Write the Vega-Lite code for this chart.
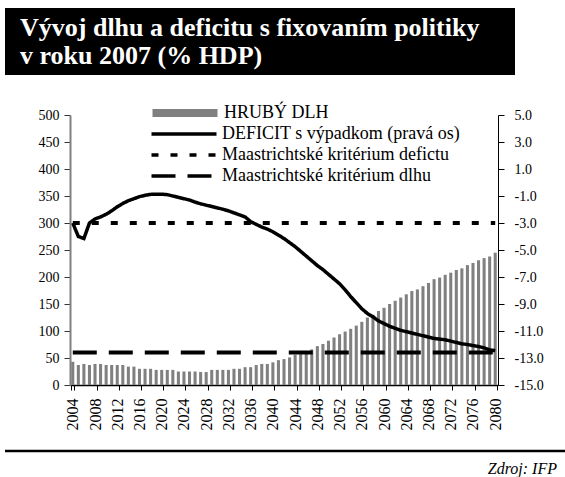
{
  "$schema": "https://vega.github.io/schema/vega-lite/v6.json",
  "padding": {"left": -3, "top": 8, "right": 0, "bottom": 0},
  "background": "white",
  "columns": 1,
  "spacing": 19,
  "config": {
    "font": "Liberation Serif",
    "view": {"stroke": null},
    "axis": {"labelFont": "Liberation Serif", "labelFontSize": 14, "labelColor": "black", "grid": false, "labelOverlap": false}
  },
  "datasets": {
    "main": [
      {"year": 2004, "debt": 43, "deficit": -3.0, "crit_debt": 60, "crit_def": -3},
      {"year": 2005, "debt": 37, "deficit": -4.0, "crit_debt": 60, "crit_def": -3},
      {"year": 2006, "debt": 39, "deficit": -4.15, "crit_debt": 60, "crit_def": -3},
      {"year": 2007, "debt": 37, "deficit": -3.0, "crit_debt": 60, "crit_def": -3},
      {"year": 2008, "debt": 39, "deficit": -2.7, "crit_debt": 60, "crit_def": -3},
      {"year": 2009, "debt": 39, "deficit": -2.55, "crit_debt": 60, "crit_def": -3},
      {"year": 2010, "debt": 37, "deficit": -2.35, "crit_debt": 60, "crit_def": -3},
      {"year": 2011, "debt": 37, "deficit": -2.1, "crit_debt": 60, "crit_def": -3},
      {"year": 2012, "debt": 37, "deficit": -1.8, "crit_debt": 60, "crit_def": -3},
      {"year": 2013, "debt": 37, "deficit": -1.55, "crit_debt": 60, "crit_def": -3},
      {"year": 2014, "debt": 34, "deficit": -1.35, "crit_debt": 60, "crit_def": -3},
      {"year": 2015, "debt": 34, "deficit": -1.2, "crit_debt": 60, "crit_def": -3},
      {"year": 2016, "debt": 30, "deficit": -1.05, "crit_debt": 60, "crit_def": -3},
      {"year": 2017, "debt": 30, "deficit": -0.95, "crit_debt": 60, "crit_def": -3},
      {"year": 2018, "debt": 30, "deficit": -0.88, "crit_debt": 60, "crit_def": -3},
      {"year": 2019, "debt": 28, "deficit": -0.87, "crit_debt": 60, "crit_def": -3},
      {"year": 2020, "debt": 28, "deficit": -0.87, "crit_debt": 60, "crit_def": -3},
      {"year": 2021, "debt": 28, "deficit": -0.9, "crit_debt": 60, "crit_def": -3},
      {"year": 2022, "debt": 28, "deficit": -1.0, "crit_debt": 60, "crit_def": -3},
      {"year": 2023, "debt": 25, "deficit": -1.1, "crit_debt": 60, "crit_def": -3},
      {"year": 2024, "debt": 25, "deficit": -1.2, "crit_debt": 60, "crit_def": -3},
      {"year": 2025, "debt": 25, "deficit": -1.3, "crit_debt": 60, "crit_def": -3},
      {"year": 2026, "debt": 25, "deficit": -1.45, "crit_debt": 60, "crit_def": -3},
      {"year": 2027, "debt": 24, "deficit": -1.58, "crit_debt": 60, "crit_def": -3},
      {"year": 2028, "debt": 24, "deficit": -1.68, "crit_debt": 60, "crit_def": -3},
      {"year": 2029, "debt": 28, "deficit": -1.78, "crit_debt": 60, "crit_def": -3},
      {"year": 2030, "debt": 28, "deficit": -1.88, "crit_debt": 60, "crit_def": -3},
      {"year": 2031, "debt": 28, "deficit": -1.98, "crit_debt": 60, "crit_def": -3},
      {"year": 2032, "debt": 28, "deficit": -2.1, "crit_debt": 60, "crit_def": -3},
      {"year": 2033, "debt": 30, "deficit": -2.25, "crit_debt": 60, "crit_def": -3},
      {"year": 2034, "debt": 30, "deficit": -2.4, "crit_debt": 60, "crit_def": -3},
      {"year": 2035, "debt": 33, "deficit": -2.55, "crit_debt": 60, "crit_def": -3},
      {"year": 2036, "debt": 33, "deficit": -2.9, "crit_debt": 60, "crit_def": -3},
      {"year": 2037, "debt": 37, "deficit": -3.1, "crit_debt": 60, "crit_def": -3},
      {"year": 2038, "debt": 39, "deficit": -3.3, "crit_debt": 60, "crit_def": -3},
      {"year": 2039, "debt": 39, "deficit": -3.45, "crit_debt": 60, "crit_def": -3},
      {"year": 2040, "debt": 42, "deficit": -3.65, "crit_debt": 60, "crit_def": -3},
      {"year": 2041, "debt": 46, "deficit": -3.9, "crit_debt": 60, "crit_def": -3},
      {"year": 2042, "debt": 48, "deficit": -4.15, "crit_debt": 60, "crit_def": -3},
      {"year": 2043, "debt": 51, "deficit": -4.45, "crit_debt": 60, "crit_def": -3},
      {"year": 2044, "debt": 56, "deficit": -4.75, "crit_debt": 60, "crit_def": -3},
      {"year": 2045, "debt": 57, "deficit": -5.1, "crit_debt": 60, "crit_def": -3},
      {"year": 2046, "debt": 60, "deficit": -5.45, "crit_debt": 60, "crit_def": -3},
      {"year": 2047, "debt": 66, "deficit": -5.8, "crit_debt": 60, "crit_def": -3},
      {"year": 2048, "debt": 72, "deficit": -6.15, "crit_debt": 60, "crit_def": -3},
      {"year": 2049, "debt": 76, "deficit": -6.45, "crit_debt": 60, "crit_def": -3},
      {"year": 2050, "debt": 82, "deficit": -6.8, "crit_debt": 60, "crit_def": -3},
      {"year": 2051, "debt": 88, "deficit": -7.15, "crit_debt": 60, "crit_def": -3},
      {"year": 2052, "debt": 94, "deficit": -7.5, "crit_debt": 60, "crit_def": -3},
      {"year": 2053, "debt": 99, "deficit": -7.95, "crit_debt": 60, "crit_def": -3},
      {"year": 2054, "debt": 104, "deficit": -8.45, "crit_debt": 60, "crit_def": -3},
      {"year": 2055, "debt": 110, "deficit": -8.9, "crit_debt": 60, "crit_def": -3},
      {"year": 2056, "debt": 117, "deficit": -9.35, "crit_debt": 60, "crit_def": -3},
      {"year": 2057, "debt": 125, "deficit": -9.7, "crit_debt": 60, "crit_def": -3},
      {"year": 2058, "debt": 130, "deficit": -9.95, "crit_debt": 60, "crit_def": -3},
      {"year": 2059, "debt": 137, "deficit": -10.25, "crit_debt": 60, "crit_def": -3},
      {"year": 2060, "debt": 143, "deficit": -10.45, "crit_debt": 60, "crit_def": -3},
      {"year": 2061, "debt": 150, "deficit": -10.65, "crit_debt": 60, "crit_def": -3},
      {"year": 2062, "debt": 156, "deficit": -10.8, "crit_debt": 60, "crit_def": -3},
      {"year": 2063, "debt": 162, "deficit": -10.95, "crit_debt": 60, "crit_def": -3},
      {"year": 2064, "debt": 168, "deficit": -11.05, "crit_debt": 60, "crit_def": -3},
      {"year": 2065, "debt": 174, "deficit": -11.15, "crit_debt": 60, "crit_def": -3},
      {"year": 2066, "debt": 177, "deficit": -11.25, "crit_debt": 60, "crit_def": -3},
      {"year": 2067, "debt": 183, "deficit": -11.35, "crit_debt": 60, "crit_def": -3},
      {"year": 2068, "debt": 189, "deficit": -11.45, "crit_debt": 60, "crit_def": -3},
      {"year": 2069, "debt": 196, "deficit": -11.55, "crit_debt": 60, "crit_def": -3},
      {"year": 2070, "debt": 199, "deficit": -11.6, "crit_debt": 60, "crit_def": -3},
      {"year": 2071, "debt": 204, "deficit": -11.65, "crit_debt": 60, "crit_def": -3},
      {"year": 2072, "debt": 208, "deficit": -11.75, "crit_debt": 60, "crit_def": -3},
      {"year": 2073, "debt": 213, "deficit": -11.85, "crit_debt": 60, "crit_def": -3},
      {"year": 2074, "debt": 216, "deficit": -11.95, "crit_debt": 60, "crit_def": -3},
      {"year": 2075, "debt": 222, "deficit": -12.0, "crit_debt": 60, "crit_def": -3},
      {"year": 2076, "debt": 226, "deficit": -12.08, "crit_debt": 60, "crit_def": -3},
      {"year": 2077, "debt": 231, "deficit": -12.15, "crit_debt": 60, "crit_def": -3},
      {"year": 2078, "debt": 235, "deficit": -12.25, "crit_debt": 60, "crit_def": -3},
      {"year": 2079, "debt": 238, "deficit": -12.4, "crit_debt": 60, "crit_def": -3},
      {"year": 2080, "debt": 245, "deficit": -12.45, "crit_debt": 60, "crit_def": -3}
    ],
    "header": [{"t": ""}],
    "footer": [{"t": ""}]
  },
  "concat": [
    {
      "width": 510,
      "height": 67,
      "view": {"fill": "black", "stroke": null},
      "title": {
        "text": ["Vývoj dlhu a deficitu s fixovaním politiky", "v roku 2007 (% HDP)"],
        "anchor": "start",
        "frame": "group",
        "orient": "top",
        "color": "white",
        "font": "Liberation Serif",
        "fontSize": 26,
        "fontWeight": "bold",
        "lineHeight": 28,
        "baseline": "alphabetic",
        "offset": 0,
        "dx": 15,
        "dy": 82
      },
      "data": {"name": "header"},
      "mark": {"type": "text"},
      "encoding": {"text": {"field": "t"}}
    },
    {
      "width": 493,
      "height": 270,
      "title": {"text": " ", "fontSize": 14, "offset": 0},
      "data": {"name": "main"},
      "encoding": {
        "x": {
          "field": "year",
          "type": "ordinal",
          "scale": {"range": [65, 493], "paddingInner": 0.45, "paddingOuter": 0.225},
          "axis": {
            "title": null,
            "values": [2004, 2008, 2012, 2016, 2020, 2024, 2028, 2032, 2036, 2040, 2044, 2048, 2052, 2056, 2060, 2064, 2068, 2072, 2076, 2080],
            "labelAngle": -90,
            "labelFontSize": 16,
            "labelPadding": 8,
            "tickBand": "extent",
            "tickSize": 5,
            "tickColor": "black",
            "domainColor": "black",
            "domainWidth": 1.5
          }
        }
      },
      "layer": [
        {
          "layer": [
            {
              "mark": {"type": "bar", "color": "#808080"},
              "encoding": {
                "y": {
                  "field": "debt",
                  "type": "quantitative",
                  "scale": {"domain": [0, 500]},
                  "axis": {
                    "title": null,
                    "orient": "left",
                    "offset": -65,
                    "minExtent": 0,
                    "values": [0, 50, 100, 150, 200, 250, 300, 350, 400, 450, 500],
                    "labelOverlap": false,
                    "tickSize": 6,
                    "tickColor": "#333333",
                    "domainColor": "#808080",
                    "domainWidth": 2,
                    "labelPadding": 5
                  }
                },
                "color": {
                  "datum": "HRUBÝ DLH",
                  "scale": {"domain": ["HRUBÝ DLH"], "range": ["#808080"]},
                  "legend": {
                    "title": null,
                    "orient": "none",
                    "legendX": 171,
                    "legendY": 96,
                    "padding": 0,
                    "symbolType": "M-6.5,-0.8H6.5V0.8H-6.5Z",
                    "symbolSize": 100,
                    "symbolStrokeWidth": 0,
                    "symbolOpacity": 1,
                    "labelOffset": 30,
                    "labelFont": "Liberation Serif",
                    "labelFontSize": 18,
                    "labelColor": "black",
                    "labelLimit": 400
                  }
                }
              }
            },
            {
              "mark": {"type": "line", "color": "black", "strokeWidth": 4},
              "encoding": {
                "y": {
                  "field": "crit_debt",
                  "type": "quantitative",
                  "scale": {"domain": [0, 500]},
                  "axis": {
                    "title": null,
                    "orient": "left",
                    "offset": -65,
                    "minExtent": 0,
                    "values": [0, 50, 100, 150, 200, 250, 300, 350, 400, 450, 500],
                    "labelOverlap": false,
                    "tickSize": 6,
                    "tickColor": "#333333",
                    "domainColor": "#808080",
                    "domainWidth": 2,
                    "labelPadding": 5
                  }
                },
                "strokeDash": {
                  "datum": "Maastrichtské kritérium dlhu",
                  "scale": {
                    "domain": ["DEFICIT s výpadkom (pravá os)", "Maastrichtské kritérium defictu", "Maastrichtské kritérium dlhu"],
                    "range": [[1, 0], [7, 12], [24, 12]]
                  },
                  "legend": {
                    "title": null,
                    "orient": "none",
                    "legendX": 170,
                    "legendY": 117,
                    "padding": 0,
                    "symbolType": "M-6.5,0H6.5",
                    "symbolSize": 100,
                    "symbolStrokeWidth": 3.5,
                    "symbolStrokeColor": "black",
                    "symbolOpacity": 1,
                    "labelOffset": 29,
                    "labelFont": "Liberation Serif",
                    "labelFontSize": 18,
                    "labelColor": "black",
                    "rowPadding": 3,
                    "labelLimit": 400
                  }
                }
              }
            }
          ]
        },
        {
          "layer": [
            {
              "mark": {"type": "line", "color": "black", "strokeWidth": 3.5},
              "encoding": {
                "y": {
                  "field": "deficit",
                  "type": "quantitative",
                  "scale": {"domain": [-15, 5]},
                  "axis": {
                    "title": null,
                    "orient": "right",
                    "values": [-15, -13, -11, -9, -7, -5, -3, -1, 1, 3, 5],
                    "labelOverlap": false,
                    "labelExpr": "(datum.value < 0 ? '-' : '') + format(abs(datum.value), '.1f')",
                    "tickSize": 6,
                    "tickColor": "black",
                    "domainColor": "black",
                    "labelPadding": 10
                  }
                },
                "strokeDash": {"datum": "DEFICIT s výpadkom (pravá os)"}
              }
            },
            {
              "mark": {"type": "line", "color": "black", "strokeWidth": 4},
              "encoding": {
                "y": {
                  "field": "crit_def",
                  "type": "quantitative",
                  "scale": {"domain": [-15, 5]},
                  "axis": {
                    "title": null,
                    "orient": "right",
                    "values": [-15, -13, -11, -9, -7, -5, -3, -1, 1, 3, 5],
                    "labelOverlap": false,
                    "labelExpr": "(datum.value < 0 ? '-' : '') + format(abs(datum.value), '.1f')",
                    "tickSize": 6,
                    "tickColor": "black",
                    "domainColor": "black",
                    "labelPadding": 10
                  }
                },
                "strokeDash": {"datum": "Maastrichtské kritérium defictu"}
              }
            }
          ]
        }
      ],
      "resolve": {"scale": {"y": "independent"}}
    },
    {
      "width": 560,
      "height": 1,
      "data": {"name": "footer"},
      "mark": {"type": "rule", "color": "black", "strokeWidth": 2.5},
      "encoding": {
        "y": {"datum": 1, "type": "quantitative", "scale": {"domain": [0, 1]}, "axis": null}
      },
      "title": {
        "text": "Zdroj: IFP",
        "orient": "bottom",
        "anchor": "end",
        "frame": "group",
        "font": "Liberation Serif",
        "fontSize": 16,
        "fontStyle": "italic",
        "fontWeight": "normal",
        "color": "black",
        "offset": 9,
        "dx": -8
      }
    }
  ]
}
